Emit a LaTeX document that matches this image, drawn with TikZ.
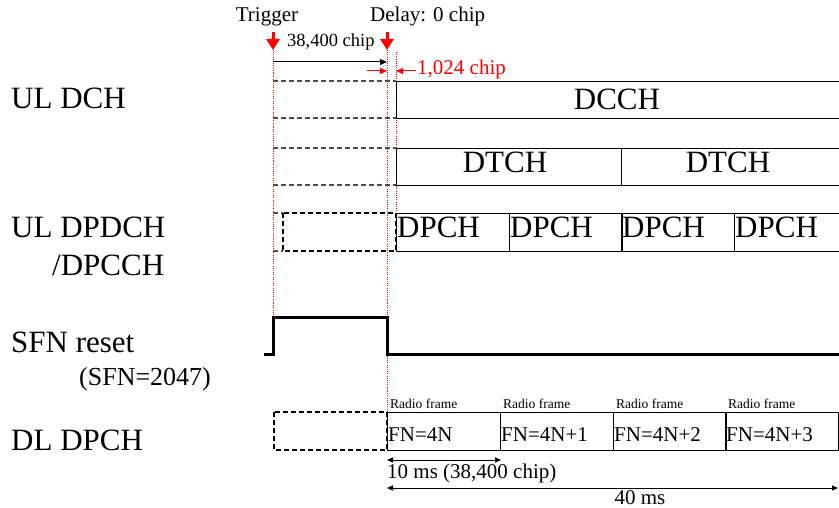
\documentclass[tikz,border=0pt]{standalone}
\usepackage{fontspec}
\setmainfont{Liberation Serif}
\usetikzlibrary{calc, arrows.meta}

\tikzset{
  big/.style={font=\fontsize{31}{31}\selectfont, inner sep=0pt},
  mid/.style={font=\fontsize{21}{21}\selectfont, inner sep=0pt},
  small/.style={font=\fontsize{13.5}{13.5}\selectfont, inner sep=0pt},
  cell/.style={draw, line width=1.1pt, anchor=north west, inner sep=0pt, minimum height=37pt},
  guide/.style={red, line width=1pt, dash pattern=on 1pt off 1.2pt},
  ghost/.style={black!70, line width=1.1pt, dash pattern=on 5pt off 3pt},
  hold/.style={draw, black, line width=2pt, dash pattern=on 5pt off 3pt},
  trig/.style={red, line width=3pt, -{Triangle[width=13pt, length=11pt]}},
  tick/.style={red, line width=1pt, -{Triangle[width=6pt, length=7pt]}},
  span/.style={line width=1pt, {Triangle[width=5pt, length=6pt]}-{Triangle[width=5pt, length=6pt]}}
}

\begin{document}
\begin{tikzpicture}[x=1pt, y=-1pt]
\useasboundingbox (0, 0) rectangle (839, 508);

% channel names
\node [big, anchor=base west] (uldch) at (11, 109) {UL DCH};
\node [big, anchor=base west] (uldpdch) at (11, 238) {UL DPDCH};
\node [big, anchor=base west] (uldpcch) at (52, 276) {/DPCCH};
\node [big, anchor=base west] (sfn) at (11, 352) {SFN reset};
\node [font=\fontsize{26}{26}\selectfont, inner sep=0pt, anchor=base west] (sfnval) at (79, 385) {(SFN=2047)};
\node [big, anchor=base west] (dldpch) at (11, 450) {DL DPCH};

% trigger and delay markers
\coordinate (T0) at (273, 32);
\coordinate (T) at (273, 50);
\coordinate (D0) at (387, 32);
\coordinate (D) at (387, 50);
\coordinate (S) at (396, 52);
\node [mid, anchor=base] (trigger) at (267, 22) {Trigger};
\node [mid, anchor=base west] (delay) at (370, 22) {Delay: 0 chip};
\draw [trig] (T0) -- (T);
\draw [trig] (D0) -- (D);
\draw [guide] (T) -- (273, 317);
\draw [guide] (D) -- (387, 412);
\draw [guide] (S) -- (396, 250);

\node [font=\fontsize{18.5}{18.5}\selectfont, inner sep=0pt, anchor=base west] (chips) at (287, 47) {38,400 chip};
\draw [line width=1pt, -{Triangle[width=6pt, length=7pt]}] (273, 62) -- (387, 62);
\draw [tick] (367, 71) -- (387, 71);
\draw [tick] (416, 71) -- (396, 71);
\node [mid, red, anchor=base west] (offset) at (417, 75) {1,024 chip};

% UL DCH
\draw [ghost] (273, 81) -- (396, 81);
\draw [ghost] (273, 118) -- (396, 118);
\node [cell, minimum width=460pt] (dcch) at (396, 81) {};
\node [big, anchor=base] at (617, 110) {DCCH};

\draw [ghost] (273, 148) -- (396, 148);
\draw [ghost] (273, 185) -- (396, 185);
\node [cell, minimum width=225pt] (dtch1) at (396, 148) {};
\node [cell, minimum width=235pt] (dtch2) at (621, 148) {};
\node [big, anchor=base] at (505, 173) {DTCH};
\node [big, anchor=base] at (728, 173) {DTCH};

% UL DPDCH/DPCCH
\draw [ghost] (273, 213) -- (283, 213);
\draw [ghost] (273, 251) -- (283, 251);
\draw [hold] (283, 213) rectangle (396, 251);
\foreach \i/\x in {0/396, 1/509, 2/621, 3/734} {
  \node [cell, minimum width=113pt, minimum height=38pt] (dpch\i) at (\x, 213) {};
  \node [big, anchor=base west] at (\x+1, 238) {DPCH};
}

% SFN reset pulse
\draw [line width=3pt] (264, 354) -- (273, 354) -- (273, 317) -- (387, 317) -- (387, 354) -- (845, 354);

% DL DPCH frames
\draw [hold] (274, 412) rectangle (387, 450);
\foreach \i/\x in {0/387, 1/500, 2/613, 3/725} {
  \node [cell, minimum width=113pt, minimum height=38pt] (frame\i) at (\x, 412) {};
  \node [small, anchor=base west] at (\x+3, 408) {Radio frame};
}
\node [mid, anchor=base west] at (388, 441) {FN=4N};
\node [mid, anchor=base west] at (501, 441) {FN=4N+1};
\node [mid, anchor=base west] at (614, 441) {FN=4N+2};
\node [mid, anchor=base west] at (726, 441) {FN=4N+3};

\draw [span] (frame0.south west |- 0, 460) -- (frame0.south east |- 0, 460);
\node [mid, anchor=base west] (tenms) at (387, 478) {10 ms (38,400 chip)};
\draw [span] (387, 488) -- (838, 488);
\node [mid, anchor=base] (fortyms) at (640, 504) {40 ms};
\end{tikzpicture}
\end{document}
